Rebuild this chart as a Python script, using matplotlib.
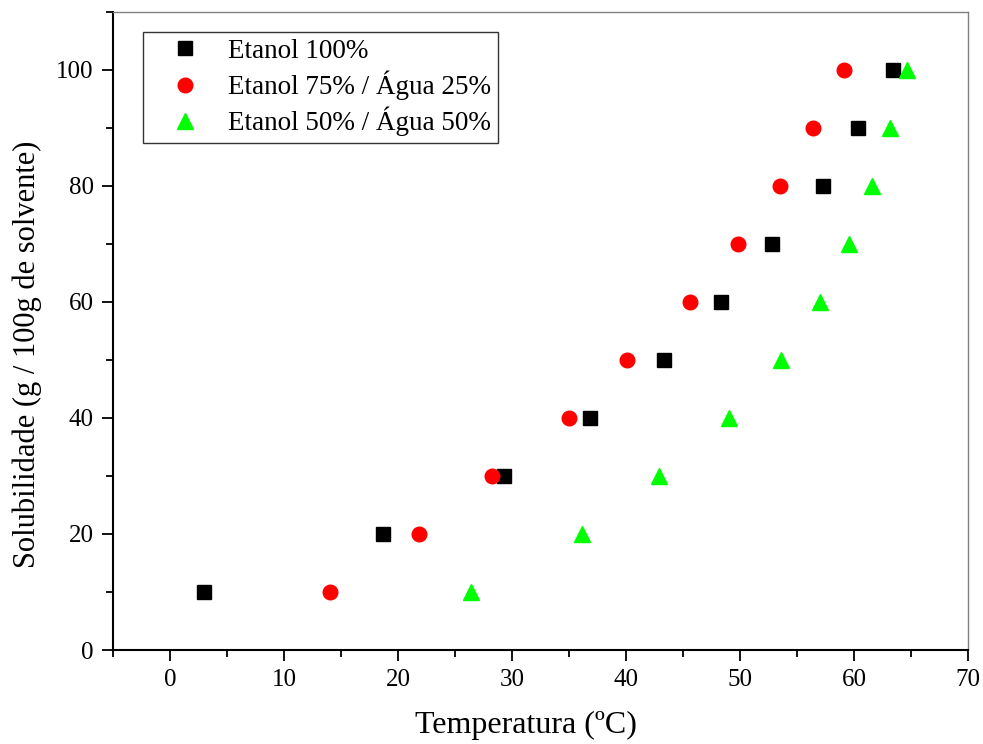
import matplotlib
matplotlib.use('Agg')
import matplotlib.pyplot as plt
from matplotlib.ticker import MultipleLocator

plt.rcParams['font.family'] = ['Liberation Serif', 'DejaVu Serif']

# Solubilidade (g / 100g de solvente)
solub = [10, 20, 30, 40, 50, 60, 70, 80, 90, 100]

# Temperaturas (ºC) para cada solvente
temp_etanol100 = [3.0, 18.7, 29.3, 36.8, 43.3, 48.3, 52.8, 57.3, 60.3, 63.4]
temp_etanol75 = [14.0, 21.8, 28.2, 35.0, 40.1, 45.6, 49.8, 53.5, 56.4, 59.1]
temp_etanol50 = [26.4, 36.1, 42.9, 49.0, 53.6, 57.0, 59.5, 61.6, 63.1, 64.6]

fig = plt.figure(figsize=(9.83, 7.44), dpi=100)
ax = fig.add_axes([0.115, 0.1263, 0.87, 0.858])

ax.plot(temp_etanol100, solub, 's', color='black', ms=9.5, label='Etanol 100%')
ax.plot(temp_etanol75, solub, 'o', color='red', ms=10.5, label='Etanol 75% / Água 25%')
ax.plot(temp_etanol50, solub, '^', color='#00ff00', ms=11, label='Etanol 50% / Água 50%')

ax.set_xlim(-5, 70)
ax.set_ylim(0, 110)
ax.xaxis.set_major_locator(MultipleLocator(10))
ax.xaxis.set_minor_locator(MultipleLocator(5))
ax.yaxis.set_major_locator(MultipleLocator(20))
ax.yaxis.set_minor_locator(MultipleLocator(10))
ax.tick_params(which='major', direction='out', length=8, width=1.3, labelsize=18, pad=6)
ax.tick_params(which='minor', direction='out', length=5, width=1.3)
ax.tick_params(top=False, right=False)

for s in ['left', 'bottom']:
    ax.spines[s].set_linewidth(1.5)
for s in ['top', 'right']:
    ax.spines[s].set_color('gray')
    ax.spines[s].set_linewidth(1.0)

ax.set_xlabel('Temperatura (ºC)', fontsize=23)
ax.set_ylabel('Solubilidade (g / 100g de solvente)', fontsize=22)
ax.xaxis.set_label_coords(0.483, -0.096)
ax.yaxis.set_label_coords(-0.083, 0.464)

leg = ax.legend(loc='upper left', bbox_to_anchor=(0.035, 0.968), fontsize=19.5,
                frameon=True, fancybox=False, edgecolor='black',
                handletextpad=0.3, borderpad=0.25, labelspacing=0.25,
                handlelength=2.6, borderaxespad=0)
leg.get_frame().set_linewidth(1.0)

fig.savefig('out.png', dpi=100)
